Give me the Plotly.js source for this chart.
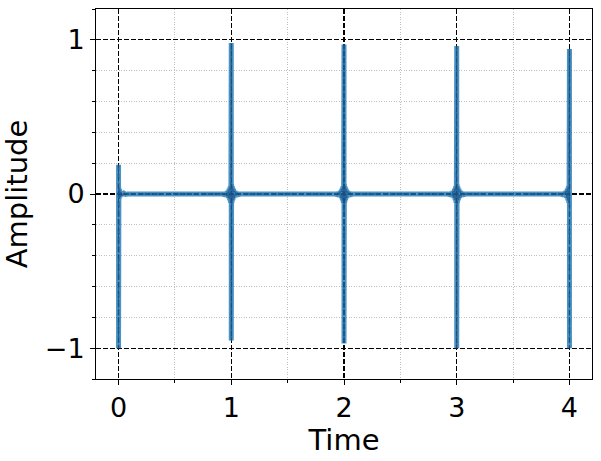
<!DOCTYPE html>
<html>
<head>
<meta charset="utf-8">
<script src="https://cdn.plot.ly/plotly-3.0.1.min.js"></script>
<style>
  body { margin: 0; }
  #plot { width: 601px; height: 461px; }
</style>
</head>
<body>
<div id="plot"></div>
<script>
// pulse train
var spikeTimes = [0, 1, 2, 3, 4];
var spikeTops = [0.19, 0.98, 0.97, 0.96, 0.94];
var spikeBottoms = [-1.0, -0.95, -0.97, -1.0, -1.0];

// ringing around each pulse (offset from the pulse, amplitude)
var ringDt = [0.003, 0.006, 0.01, 0.014, 0.019, 0.025, 0.032, 0.04, 0.05, 0.062, 0.08];
var ringAmp = [0.065, -0.058, 0.05, -0.042, 0.034, -0.026, 0.019, -0.013, 0.008, -0.004, 0];
var ringAmpStart = [0.04, -0.03, 0.03, -0.02, 0.018, -0.012, 0.01, -0.006, 0.004, -0.002, 0];

var time = [];
var amplitude = [];
spikeTimes.forEach(function (t, k) {
  var ring = k === 0 ? ringAmpStart : ringAmp;
  if (k > 0) {
    for (var i = ringDt.length - 1; i >= 0; i--) {
      time.push(t - ringDt[i]);
      amplitude.push(ring[i]);
    }
  }
  time.push(t, t);
  amplitude.push(spikeTops[k], spikeBottoms[k]);
  if (k < spikeTimes.length - 1) {
    for (var j = 0; j < ringDt.length; j++) {
      time.push(t + ringDt[j]);
      amplitude.push(ring[j]);
    }
  }
});

var thick = {
  x: time,
  y: amplitude,
  mode: "lines",
  line: {color: "rgba(31,119,180,0.8)", width: 5, simplify: false},
  hoverinfo: "skip"
};

var dashed = {
  x: time,
  y: amplitude,
  mode: "lines",
  line: {color: "rgba(20,75,125,0.65)", width: 1.6, dash: "6px,3px", simplify: false},
  hoverinfo: "skip"
};

var axisBase = {
  showline: true,
  mirror: true,
  linecolor: "black",
  linewidth: 1,
  ticks: "outside",
  ticklen: 5,
  tickwidth: 1,
  tickcolor: "black",
  showgrid: true,
  gridcolor: "black",
  gridwidth: 1.2,
  griddash: "5px,2px",
  zeroline: false,
  tickfont: {family: "DejaVu Sans", size: 27, color: "black"}
};

var minorGrid = {
  showgrid: true,
  gridcolor: "#b0b0b0",
  gridwidth: 0.8,
  griddash: "1px,1.5px",
  ticks: "outside",
  ticklen: 3,
  tickcolor: "black"
};

var layout = {
  width: 601,
  height: 461,
  margin: {l: 96, r: 9, t: 9, b: 82},
  showlegend: false,
  paper_bgcolor: "white",
  plot_bgcolor: "white",
  xaxis: Object.assign({}, axisBase, {
    range: [-0.2, 4.2],
    dtick: 1,
    tick0: 0,
    title: {text: "Time", font: {family: "DejaVu Sans", size: 29, color: "black"}, standoff: 6},
    minor: Object.assign({dtick: 0.5, tick0: 0}, minorGrid)
  }),
  yaxis: Object.assign({}, axisBase, {
    range: [-1.2, 1.2],
    dtick: 1,
    tick0: 0,
    title: {text: "Amplitude", font: {family: "DejaVu Sans", size: 29, color: "black"}, standoff: 12},
    minor: Object.assign({dtick: 0.2, tick0: 0}, minorGrid)
  })
};

Plotly.newPlot("plot", [thick, dashed], layout, {displayModeBar: false, staticPlot: true});
</script>
</body>
</html>
